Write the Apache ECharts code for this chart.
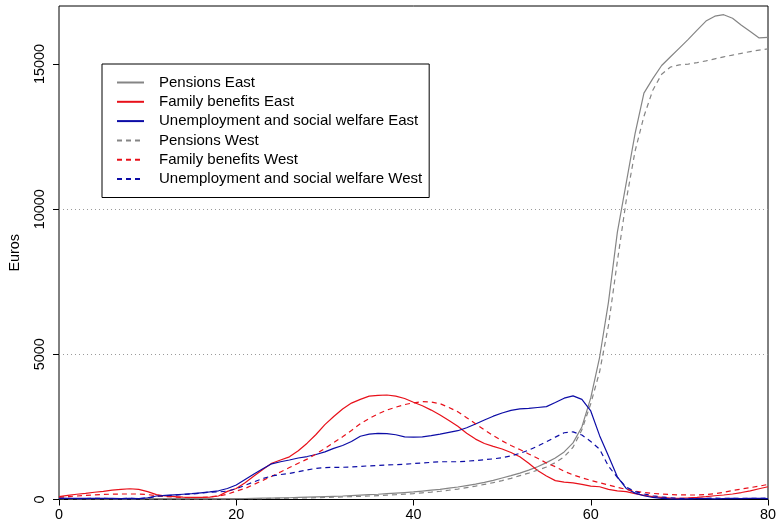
<!DOCTYPE html>
<html>
<head>
<meta charset="utf-8">
<script src="https://cdn.jsdelivr.net/npm/echarts@6/dist/echarts.min.js"></script>
<style>
  html, body { margin: 0; padding: 0; background: #fff; }
  #chart { width: 780px; height: 524px; }
</style>
</head>
<body>
<div id="chart"></div>
<script>
// Age in years (x axis)
const ages = Array.from({ length: 81 }, (_, i) => i);

// Average transfers received per person by age, in euros
const pensionsEast = [
  40, 35, 30, 30, 30, 30, 30, 30, 30, 30,
  30, 30, 30, 30, 30, 30, 30, 30, 30, 30,
  30, 35, 40, 45, 50, 55, 60, 70, 80, 90,
  100, 110, 120, 135, 150, 165, 180, 200, 220, 240,
  260, 290, 320, 350, 390, 430, 480, 530, 590, 660,
  740, 820, 910, 1010, 1130, 1270, 1430, 1640, 1950, 2500,
  3500, 4900, 6800, 9200, 10900, 12600, 14000, 14500, 14950, 15250,
  15550, 15850, 16170, 16480, 16650, 16700, 16580, 16340, 16120, 15900, 15920
];
const familyEast = [
  100, 140, 180, 210, 250, 280, 320, 350, 370, 350,
  270, 170, 120, 100, 80, 70, 70, 80, 120, 280,
  380, 580, 810, 1030, 1250, 1360, 1470, 1680, 1940, 2240,
  2580, 2860, 3120, 3320, 3450, 3560, 3590, 3600, 3560, 3480,
  3350, 3230, 3080, 2910, 2720, 2520, 2280, 2080, 1930, 1830,
  1740, 1620, 1470, 1250, 1000, 810, 650, 600, 570, 520,
  460, 440, 350, 300, 270, 200, 140, 100, 70, 45,
  40, 55, 75, 100, 130, 155, 190, 240, 300, 370, 440
];
const welfareEast = [
  50, 40, 40, 40, 40, 40, 40, 30, 40, 30,
  60, 120, 140, 160, 180, 200, 230, 260, 300, 380,
  500, 690, 880, 1060, 1230, 1300, 1360, 1430, 1480, 1550,
  1640, 1760, 1860, 2000, 2180, 2250, 2280, 2270, 2230, 2160,
  2150, 2160, 2200, 2250, 2310, 2370, 2470, 2600, 2740, 2870,
  2980, 3070, 3120, 3140, 3170, 3200, 3340, 3490, 3570, 3450,
  3050, 2200, 1500, 780, 380, 220, 130, 70, 40, 20,
  10, 20, 30, 30, 20, 30, 40, 30, 40, 40, 30
];
const pensionsWest = [
  25, 20, 20, 20, 20, 20, 20, 20, 20, 20,
  20, 20, 20, 20, 20, 20, 20, 20, 20, 20,
  25, 28, 30, 33, 36, 40, 45, 50, 55, 62,
  70, 80, 90, 100, 110, 120, 135, 150, 165, 185,
  205, 230, 255, 285, 320, 360, 410, 460, 520, 580,
  650, 730, 820, 910, 1010, 1120, 1270, 1470, 1800, 2400,
  3300, 4400, 6000, 8200, 10300, 12000, 13200, 14100, 14650, 14900,
  14970, 15000, 15050, 15110, 15180, 15250, 15310, 15370, 15430, 15480, 15520
];
const familyWest = [
  80, 100, 120, 140, 160, 175, 185, 190, 190, 190,
  170, 130, 100, 80, 70, 65, 70, 90, 120, 180,
  290, 380, 520, 660, 800, 950, 1100, 1250, 1390, 1570,
  1760, 1960, 2160, 2380, 2610, 2790, 2950, 3080, 3180, 3270,
  3330, 3370, 3360, 3300, 3170, 3020, 2820, 2610, 2400, 2200,
  2020, 1860, 1720, 1570, 1420, 1260, 1130, 970, 850, 750,
  660, 580, 500, 420, 350, 290, 240, 210, 185, 170,
  160, 155, 155, 170, 200, 250, 310, 360, 410, 460, 520
];
const welfareWest = [
  40, 40, 30, 30, 40, 40, 30, 30, 40, 30,
  50, 110, 130, 150, 170, 190, 220, 250, 260, 290,
  370, 490, 610, 720, 810, 860, 900, 960, 1020, 1070,
  1100, 1110, 1110, 1120, 1140, 1160, 1170, 1190, 1200, 1210,
  1240, 1260, 1280, 1300, 1300, 1300, 1320, 1340, 1370, 1400,
  1440, 1500, 1590, 1700, 1840, 1990, 2150, 2300, 2330, 2220,
  2000, 1730, 1150, 760, 430, 270, 190, 130, 90, 60,
  40, 30, 30, 40, 50, 40, 40, 40, 40, 40, 50
];

const xTicks = [0, 20, 40, 60, 80];
const yTicks = [0, 5000, 10000, 15000];

const FONT = '"Liberation Sans", Arial, Helvetica, sans-serif';
const GRAY = '#858585';
const RED = '#e8101a';
const BLUE = '#0c0ca6';
const DASH = [5, 4];

const seriesDefs = [
  { name: 'Pensions East', values: pensionsEast, color: GRAY, dash: 'solid' },
  { name: 'Family benefits East', values: familyEast, color: RED, dash: 'solid' },
  { name: 'Unemployment and social welfare East', values: welfareEast, color: BLUE, dash: 'solid' },
  { name: 'Pensions West', values: pensionsWest, color: GRAY, dash: DASH },
  { name: 'Family benefits West', values: familyWest, color: RED, dash: DASH },
  { name: 'Unemployment and social welfare West', values: welfareWest, color: BLUE, dash: DASH }
];

const chart = echarts.init(document.getElementById('chart'), null, { renderer: 'canvas' });

chart.setOption({
  animation: false,
  backgroundColor: '#fff',
  grid: {
    left: 58, top: 6, width: 710, height: 493.5,
    show: true, borderColor: '#000', borderWidth: 1, backgroundColor: 'transparent'
  },
  legend: {
    orient: 'vertical',
    left: 102, top: 64,
    padding: [11, 7, 11, 14],
    itemWidth: 27, itemHeight: 14, itemGap: 4.3,
    borderColor: '#000', borderWidth: 1, borderRadius: 0,
    backgroundColor: '#fff',
    selectedMode: false,
    // line samples only, no point markers
    itemStyle: { opacity: 0, borderWidth: 0 },
    textStyle: { fontFamily: FONT, fontSize: 15, color: '#000', padding: [0, 0, 0, 10] },
    data: seriesDefs.map(s => s.name)
  },
  xAxis: {
    type: 'value', min: 0, max: 80, interval: 20,
    axisLine: { show: false },
    axisTick: { show: true, length: 6, lineStyle: { color: '#000', width: 1 }, customValues: xTicks },
    axisLabel: { color: '#000', fontFamily: FONT, fontSize: 14.4, margin: 9, customValues: xTicks },
    splitLine: { show: false }
  },
  yAxis: {
    type: 'value', min: 0, max: 17000, interval: 5000,
    name: 'Euros', nameLocation: 'middle', nameGap: 37, nameRotate: 90,
    nameTextStyle: { color: '#000', fontFamily: FONT, fontSize: 14.4 },
    axisLine: { show: false },
    axisTick: { show: true, length: 6, lineStyle: { color: '#000', width: 1 }, customValues: yTicks },
    axisLabel: {
      color: '#000', fontFamily: FONT, fontSize: 14.4, rotate: 90, margin: 12,
      customValues: yTicks, formatter: v => String(v)
    },
    splitLine: {
      show: true, showMinLine: false, showMaxLine: false,
      lineStyle: { color: '#9a9a9a', width: 1, type: [1, 3] }
    }
  },
  series: seriesDefs.map(s => ({
    name: s.name,
    type: 'line',
    data: ages.map((a, i) => [a, s.values[i]]),
    symbol: 'none',
    showSymbol: false,
    smooth: false,
    clip: true,
    color: s.color,
    lineStyle: { color: s.color, width: 1.2, type: s.dash },
    itemStyle: { color: s.color },
    emphasis: { disabled: true }
  }))
});
</script>
</body>
</html>
